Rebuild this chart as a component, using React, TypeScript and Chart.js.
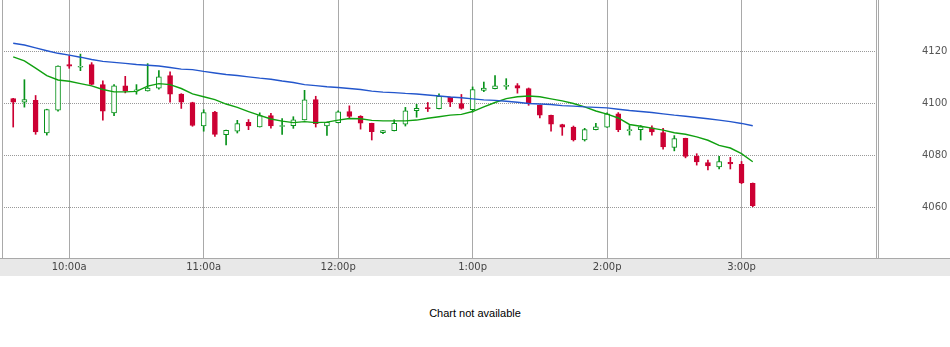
import React, { useEffect, useRef } from 'react';
import { Chart, registerables } from 'chart.js';

Chart.register(...registerables);

// 5-minute bars (bar time labels)
const times = [
  '9:35', '9:40', '9:45', '9:50', '9:55',
  '10:00', '10:05', '10:10', '10:15', '10:20', '10:25', '10:30', '10:35', '10:40', '10:45', '10:50', '10:55',
  '11:00', '11:05', '11:10', '11:15', '11:20', '11:25', '11:30', '11:35', '11:40', '11:45', '11:50', '11:55',
  '12:00', '12:05', '12:10', '12:15', '12:20', '12:25', '12:30', '12:35', '12:40', '12:45', '12:50', '12:55',
  '13:00', '13:05', '13:10', '13:15', '13:20', '13:25', '13:30', '13:35', '13:40', '13:45', '13:50', '13:55',
  '14:00', '14:05', '14:10', '14:15', '14:20', '14:25', '14:30', '14:35', '14:40', '14:45', '14:50', '14:55',
  '15:00', '15:05',
];

const opens = [
  4101.9, 4100.5, 4101.2, 4088.6, 4097.4,
  4115.0, 4114.0, 4115.0, 4107.3, 4096.4, 4106.8, 4104.9, 4104.9, 4105.9, 4110.8, 4103.6, 4100.4,
  4091.3, 4096.7, 4088.0, 4089.3, 4092.7, 4091.0, 4095.3, 4091.1, 4091.4, 4093.7, 4101.5, 4091.3,
  4092.6, 4096.9, 4095.0, 4092.3, 4088.7, 4089.5, 4092.0, 4097.2, 4098.2, 4098.0, 4102.4, 4100.0,
  4097.6, 4105.1, 4105.7, 4106.6, 4106.9, 4105.8, 4099.3, 4095.4, 4091.9, 4090.9, 4085.9, 4089.9,
  4090.9, 4096.0, 4089.5, 4089.9, 4090.6, 4088.8, 4083.0, 4086.5, 4079.6, 4077.2, 4075.5, 4077.3,
  4076.5, 4069.2,
];
const highs = [
  4102.0, 4109.2, 4103.1, 4097.8, 4114.6,
  4118.5, 4119.1, 4115.8, 4108.8, 4107.3, 4110.5, 4107.3, 4115.4, 4112.7, 4112.2, 4103.8, 4100.5,
  4097.6, 4097.0, 4089.7, 4093.5, 4093.8, 4096.4, 4096.2, 4094.2, 4094.9, 4105.1, 4102.8, 4092.8,
  4097.2, 4099.1, 4095.3, 4092.4, 4089.6, 4093.7, 4098.5, 4099.7, 4100.4, 4103.7, 4102.5, 4103.5,
  4106.4, 4108.3, 4110.8, 4109.6, 4107.7, 4106.0, 4099.4, 4095.5, 4092.0, 4091.3, 4090.4, 4092.3,
  4096.4, 4096.5, 4091.5, 4091.5, 4091.4, 4090.4, 4087.6, 4086.6, 4080.6, 4078.1, 4079.6, 4079.2,
  4077.6, 4069.3,
];
const lows = [
  4090.9, 4098.6, 4088.1, 4087.8, 4097.0,
  4113.6, 4112.7, 4107.2, 4093.6, 4095.3, 4104.1, 4103.6, 4104.8, 4105.5, 4100.5, 4098.1, 4091.2,
  4089.3, 4087.3, 4084.0, 4088.6, 4089.9, 4090.9, 4090.5, 4088.1, 4090.4, 4093.6, 4090.9, 4087.7,
  4092.5, 4094.2, 4090.1, 4085.9, 4088.3, 4089.4, 4091.3, 4094.7, 4096.9, 4097.9, 4098.8, 4097.8,
  4096.7, 4104.6, 4105.6, 4105.5, 4104.0, 4099.3, 4094.4, 4089.3, 4087.7, 4085.5, 4085.5, 4089.8,
  4090.8, 4089.1, 4087.8, 4085.9, 4087.8, 4082.4, 4081.7, 4079.0, 4076.2, 4074.3, 4074.7, 4074.7,
  4069.0, 4060.1,
];
const closes = [
  4100.5, 4101.5, 4089.0, 4097.7, 4114.5,
  4114.4, 4114.2, 4107.4, 4097.0, 4106.8, 4105.0, 4105.1, 4106.0, 4110.3, 4103.6, 4100.5, 4091.5,
  4096.5, 4088.1, 4089.6, 4092.2, 4091.3, 4095.3, 4091.3, 4091.3, 4093.7, 4101.4, 4092.2, 4092.7,
  4096.8, 4095.0, 4092.4, 4089.1, 4089.5, 4092.3, 4097.2, 4098.1, 4098.0, 4102.8, 4100.5, 4098.1,
  4105.4, 4106.0, 4106.8, 4106.8, 4105.9, 4099.9, 4095.5, 4092.0, 4090.9, 4085.9, 4089.9, 4091.0,
  4096.0, 4089.9, 4089.7, 4091.0, 4089.0, 4083.2, 4086.4, 4079.6, 4077.4, 4075.9, 4077.6, 4076.7,
  4069.3, 4060.5,
];

// moving averages
const maLong = [
  4123.3, 4122.6, 4121.5, 4120.4, 4119.4,
  4118.7, 4117.9, 4117.0, 4116.3, 4115.9, 4115.5, 4115.1, 4114.8, 4114.5, 4113.9, 4113.3, 4113.1,
  4112.4, 4111.8, 4111.2, 4110.8, 4110.3, 4109.8, 4109.4, 4108.7, 4108.1, 4107.3, 4106.9, 4106.5,
  4106.2, 4105.8, 4105.4, 4104.8, 4104.4, 4104.2, 4103.9, 4103.7, 4103.3, 4102.9, 4102.5, 4102.2,
  4101.8, 4101.4, 4101.2, 4100.9, 4100.5, 4100.0, 4099.8, 4099.6, 4099.2, 4099.0, 4098.7, 4098.5,
  4098.3, 4097.8, 4097.3, 4096.9, 4096.5, 4096.0, 4095.5, 4095.1, 4094.6, 4094.1, 4093.6, 4093.0,
  4092.3, 4091.4,
];
const maShort = [
  4118.0, 4116.5, 4113.7, 4110.8, 4109.1,
  4108.6, 4107.7, 4106.8, 4105.4, 4104.5, 4104.5, 4104.7, 4106.7, 4107.7, 4107.3, 4105.8, 4103.7,
  4102.6, 4101.5, 4099.8, 4098.5, 4096.9, 4095.4, 4094.0, 4093.2, 4092.6, 4093.0, 4092.6, 4092.8,
  4093.6, 4094.2, 4094.1, 4093.5, 4093.3, 4093.3, 4093.3, 4093.6, 4094.3, 4094.9, 4095.5, 4095.8,
  4096.9, 4098.7, 4100.4, 4101.9, 4102.6, 4102.9, 4102.6, 4101.8, 4101.0, 4100.0, 4098.7, 4097.1,
  4095.9, 4094.4, 4091.9, 4091.2, 4090.5, 4089.7, 4088.7, 4088.1, 4087.1, 4085.8, 4083.8, 4082.8,
  4080.6, 4077.5,
];

// axis ticks (minutes since midnight) and their labels
const sessionStart = '9:30';
const sessionEnd = '16:00';
const hourTicks = ['10:00', '11:00', '12:00', '13:00', '14:00', '15:00'];
const hourLabels = ['10:00a', '11:00a', '12:00p', '1:00p', '2:00p', '3:00p'];
const priceTicks = [4060, 4080, 4100, 4120];
const priceMin = 4040.3;
const priceMax = 4140;

const UP = '#07921a';
const DOWN = '#cc0033';
const BLUE = '#2356cc';
const GREEN = '#10a010';
const GRID = '#a9a9a9';

const toMin = (s: string) => {
  const [h, m] = s.split(':').map(Number);
  return h * 60 + m;
};

const framePlugin = {
  id: 'frame',
  beforeDraw(chart: any) {
    const { ctx, chartArea, width, height } = chart;
    ctx.save();
    ctx.fillStyle = '#ffffff';
    ctx.fillRect(0, 0, width, height);
    ctx.fillStyle = '#e8e8e8';
    ctx.fillRect(0, chartArea.bottom, width, height - chartArea.bottom);
    ctx.restore();
  },
  afterDraw(chart: any) {
    const { ctx, chartArea, width } = chart;
    ctx.save();
    ctx.strokeStyle = GRID;
    ctx.lineWidth = 1;
    ctx.beginPath();
    ctx.moveTo(0, chartArea.bottom + 0.5);
    ctx.lineTo(width, chartArea.bottom + 0.5);
    ctx.moveTo(chartArea.left + 0.5, 0);
    ctx.lineTo(chartArea.left + 0.5, chartArea.bottom);
    ctx.moveTo(chartArea.right + 0.5, 0);
    ctx.lineTo(chartArea.right + 0.5, chartArea.bottom);
    ctx.moveTo(chartArea.right + 2.5, 0);
    ctx.lineTo(chartArea.right + 2.5, chartArea.bottom);
    ctx.stroke();
    ctx.restore();
  },
};

export default function App() {
  const ref = useRef<HTMLCanvasElement | null>(null);

  useEffect(() => {
    if (!ref.current) return;
    const xs = times.map(toMin);
    const isUp = closes.map((c, i) => c >= opens[i]);
    const hourVals = hourTicks.map(toMin);

    const chart = new Chart(ref.current, {
      type: 'bar',
      data: {
        datasets: [
          {
            type: 'line',
            data: xs.map((x, i) => ({ x, y: maLong[i] })),
            borderColor: BLUE,
            borderWidth: 1.4,
            pointRadius: 0,
            tension: 0,
            fill: false,
            order: 0,
          } as any,
          {
            type: 'line',
            data: xs.map((x, i) => ({ x, y: maShort[i] })),
            borderColor: GREEN,
            borderWidth: 1.4,
            pointRadius: 0,
            tension: 0,
            fill: false,
            order: 1,
          } as any,
          {
            type: 'bar',
            data: xs.map((x, i) => ({ x, y: [opens[i], closes[i]] })),
            backgroundColor: isUp.map((u) => (u ? '#ffffff' : DOWN)),
            borderColor: isUp.map((u) => (u ? UP : DOWN)),
            borderWidth: 1,
            borderSkipped: false,
            barThickness: 5,
            minBarLength: 1,
            grouped: false,
            order: 2,
          } as any,
          {
            type: 'bar',
            data: xs.map((x, i) => ({ x, y: [lows[i], highs[i]] })),
            backgroundColor: isUp.map((u) => (u ? UP : DOWN)),
            borderWidth: 0,
            barThickness: 1,
            grouped: false,
            order: 3,
          } as any,
        ],
      },
      options: {
        responsive: false,
        animation: false,
        devicePixelRatio: 1,
        events: [],
        layout: { padding: { left: 2, right: 0, top: 0, bottom: 0 } },
        plugins: { legend: { display: false }, tooltip: { enabled: false } },
        scales: {
          x: {
            type: 'linear',
            min: toMin(sessionStart),
            max: toMin(sessionEnd),
            offset: false,
            grid: { offset: false, color: GRID, lineWidth: 1, drawTicks: false },
            border: { display: false },
            ticks: {
              padding: 3,
              color: '#444',
              font: { family: 'DejaVu Sans', size: 10 },
              maxRotation: 0,
              autoSkip: false,
              callback: (v: any) => {
                const k = hourVals.indexOf(Number(v));
                return k >= 0 ? hourLabels[k] : '';
              },
            },
            afterBuildTicks: (s: any) => {
              s.ticks = hourVals.map((v) => ({ value: v }));
            },
            afterFit: (s: any) => {
              s.height = 18;
              s.paddingLeft = 0;
              s.paddingRight = 0;
            },
          },
          y: {
            position: 'right',
            min: priceMin,
            max: priceMax,
            grid: { color: '#999', lineWidth: 1, drawTicks: false },
            border: { display: false, dash: [1, 1] },
            ticks: {
              padding: 46,
              color: '#555',
              font: { family: 'DejaVu Sans', size: 10 },
              callback: (v: any) => String(v),
            },
            afterBuildTicks: (s: any) => {
              s.ticks = priceTicks.map((v) => ({ value: v }));
            },
            afterFit: (s: any) => {
              s.width = 74;
              s.paddingTop = 0;
              s.paddingBottom = 0;
            },
          },
        },
      } as any,
      plugins: [framePlugin],
    });
    return () => chart.destroy();
  }, []);

  return (
    <div style={{ position: 'absolute', left: 0, top: 0, width: 950, height: 347, background: '#fff' }}>
      <canvas ref={ref} width={950} height={276} style={{ display: 'block' }} />
      <div
        style={{
          position: 'absolute',
          left: 0,
          top: 306,
          width: 950,
          textAlign: 'center',
          fontFamily: '"Liberation Sans", Arial, sans-serif',
          fontSize: 11,
          lineHeight: '14px',
          color: '#000',
        }}
      >
        Chart not available
      </div>
    </div>
  );
}
